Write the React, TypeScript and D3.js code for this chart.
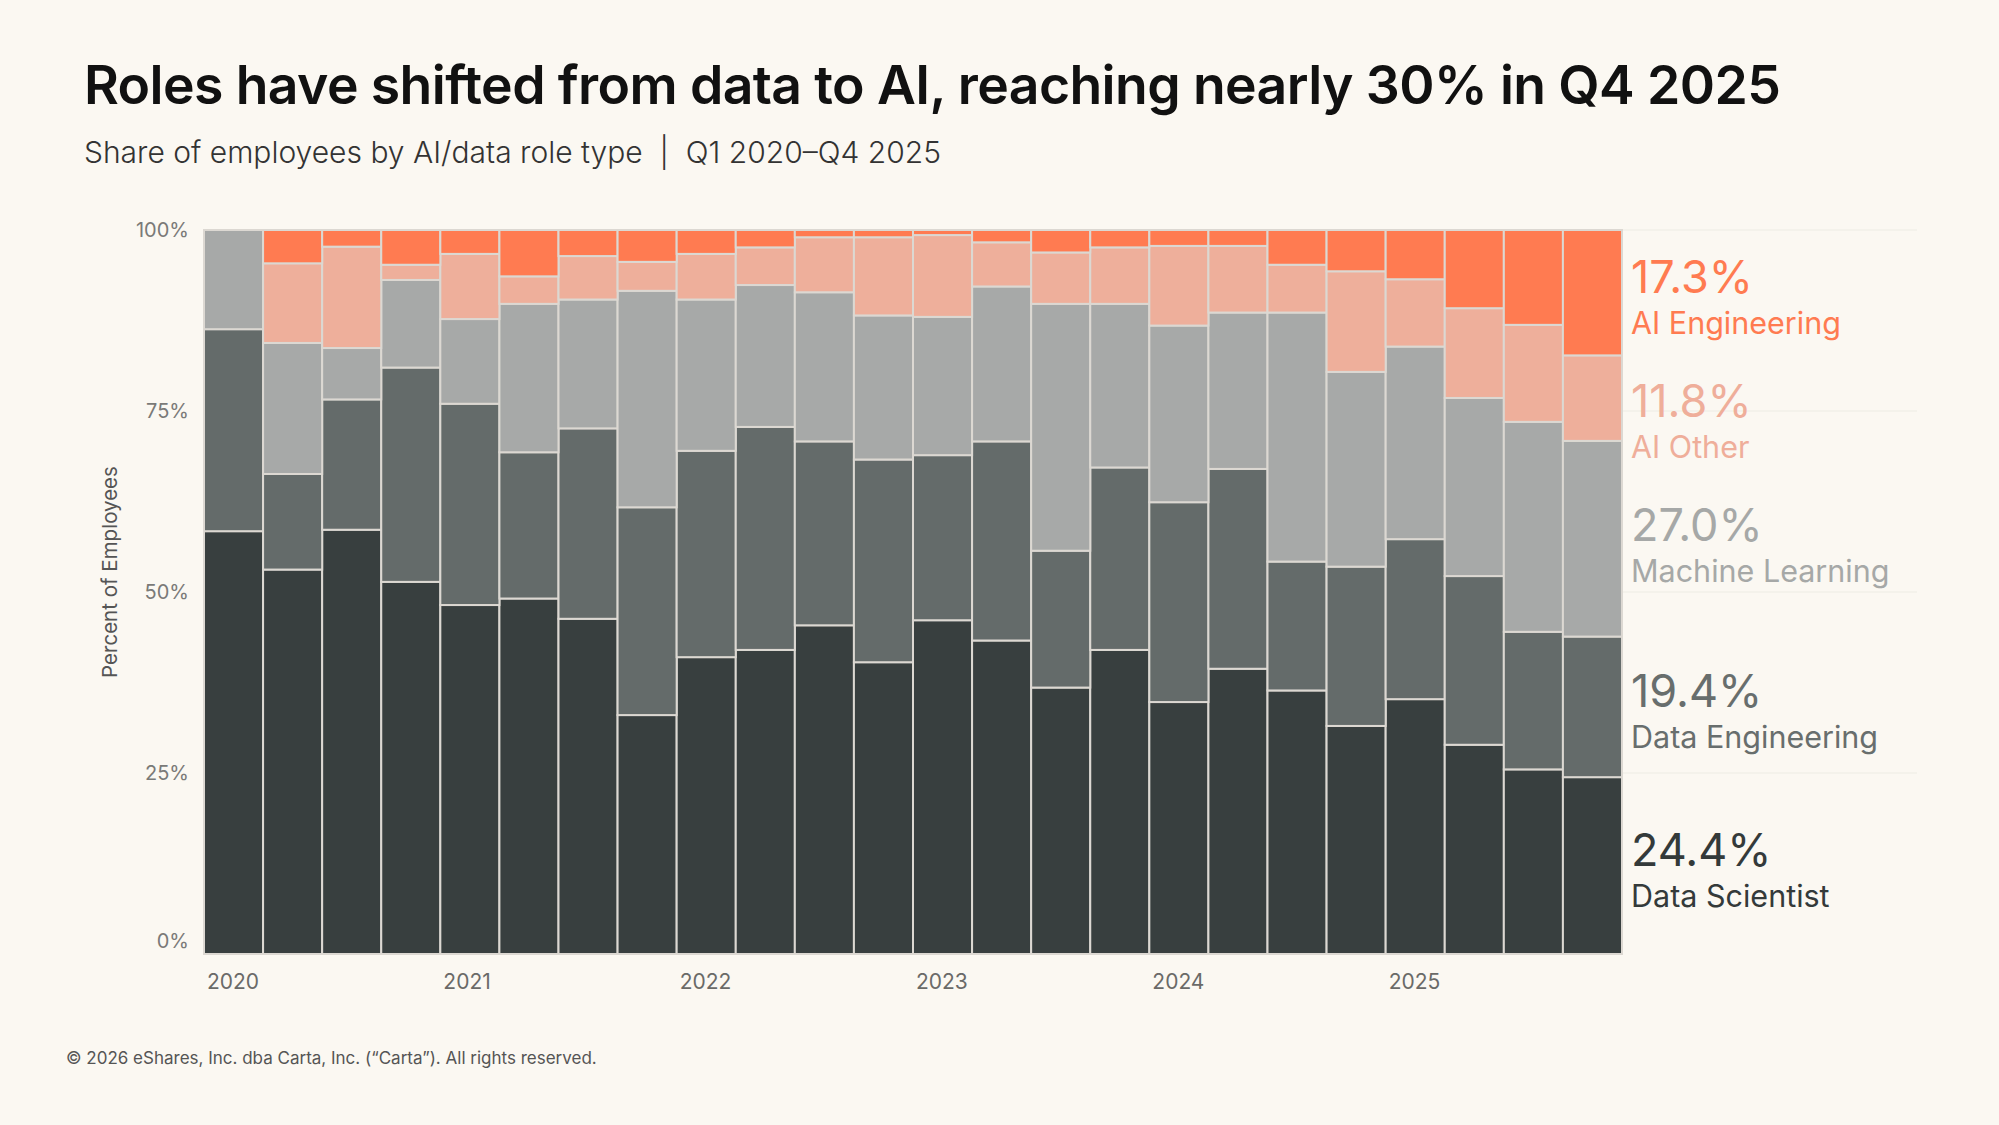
import * as d3 from 'd3';

const QUARTERS = [
  'Q1 2020', 'Q2 2020', 'Q3 2020', 'Q4 2020',
  'Q1 2021', 'Q2 2021', 'Q3 2021', 'Q4 2021',
  'Q1 2022', 'Q2 2022', 'Q3 2022', 'Q4 2022',
  'Q1 2023', 'Q2 2023', 'Q3 2023', 'Q4 2023',
  'Q1 2024', 'Q2 2024', 'Q3 2024', 'Q4 2024',
  'Q1 2025', 'Q2 2025', 'Q3 2025', 'Q4 2025',
];

// bottom to top
const SERIES = ['Data Scientist', 'Data Engineering', 'Machine Learning', 'AI Other', 'AI Engineering'];

const DATA_SCIENTIST = [58.4, 53.1, 58.6, 51.4, 48.2, 49.1, 46.3, 33.0, 41.0, 42.0, 45.4, 40.3, 46.1, 43.3, 36.8, 42.0, 34.8, 39.4, 36.4, 31.5, 35.2, 28.9, 25.5, 24.4];
const DATA_ENGINEERING = [27.9, 13.2, 18.0, 29.6, 27.8, 20.2, 26.3, 28.7, 28.5, 30.8, 25.4, 28.0, 22.8, 27.5, 18.9, 25.2, 27.6, 27.6, 17.8, 22.0, 22.1, 23.3, 19.0, 19.4];
const MACHINE_LEARNING = [13.7, 18.1, 7.1, 12.1, 11.7, 20.5, 17.8, 29.9, 20.9, 19.6, 20.6, 19.9, 19.1, 21.4, 34.1, 22.6, 24.4, 21.6, 34.4, 26.9, 26.6, 24.6, 29.0, 27.0];
const AI_OTHER = [0, 11.0, 14.0, 2.1, 9.0, 3.8, 6.0, 4.0, 6.3, 5.2, 7.6, 10.8, 11.3, 6.1, 7.1, 7.8, 11.0, 9.2, 6.6, 13.9, 9.3, 12.4, 13.4, 11.8];
const AI_ENGINEERING = [0, 4.6, 2.3, 4.8, 3.3, 6.4, 3.6, 4.4, 3.3, 2.4, 1.0, 1.0, 0.7, 1.7, 3.1, 2.4, 2.2, 2.2, 4.8, 5.7, 6.8, 10.8, 13.1, 17.3];

const VALUES: Record<string, number[]> = {
  'Data Scientist': DATA_SCIENTIST,
  'Data Engineering': DATA_ENGINEERING,
  'Machine Learning': MACHINE_LEARNING,
  'AI Other': AI_OTHER,
  'AI Engineering': AI_ENGINEERING,
};

const Y_TICKS = [0, 0.25, 0.5, 0.75, 1];
const YEAR_LABELS = ['2020', '2021', '2022', '2023', '2024', '2025'];

const COLORS: Record<string, string> = {
  'Data Scientist': '#383f3f',
  'Data Engineering': '#646b6a',
  'Machine Learning': '#a7a9a8',
  'AI Other': '#eeaf9b',
  'AI Engineering': '#ff7b51',
};

const TEXT_COLORS: Record<string, string> = {
  'Data Scientist': '#343a3a',
  'Data Engineering': '#686e6d',
  'Machine Learning': '#a6a8a7',
  'AI Other': '#efae9a',
  'AI Engineering': '#ff7b51',
};

const W = 1999;
const H = 1125;
const BG = '#fbf8f2';
const FONT = 'Inter, "Noto Sans", sans-serif';

export default function App() {
  const margin = { top: 230, right: 377, bottom: 171, left: 204 };
  const innerW = W - margin.left - margin.right;
  const innerH = H - margin.top - margin.bottom;

  const rows = QUARTERS.map((q, i) => {
    const row: Record<string, number | string> = { quarter: q };
    SERIES.forEach((s) => { row[s] = VALUES[s][i]; });
    return row;
  });

  const stacked = d3.stack<Record<string, number | string>>()
    .keys(SERIES)
    .value((d, k) => d[k] as number)
    .offset(d3.stackOffsetExpand)(rows);

  const x = d3.scaleBand<string>().domain(QUARTERS).range([0, innerW]).padding(0);
  const y = d3.scaleLinear().domain([0, 1]).range([innerH, 0]);

  // end labels sit at the last bar's segment centres, pushed down when they collide
  const last = QUARTERS.length - 1;
  const ends = stacked.map((layer) => {
    const seg = layer[last];
    return { key: layer.key, value: VALUES[layer.key][last], cy: y((seg[0] + seg[1]) / 2) };
  }).sort((a, b) => a.cy - b.cy);
  const minGap = 124;
  for (let i = 1; i < ends.length; i++) {
    if (ends[i].cy < ends[i - 1].cy + minGap) ends[i].cy = ends[i - 1].cy + minGap;
  }

  return (
    <svg width={W} height={H} style={{ position: 'absolute', left: 0, top: 0, background: BG }} fontFamily={FONT}>
      <rect width={W} height={H} fill={BG} />

      <text x={84} y={104} fontSize={53.5} fontWeight={600} fill="#111" letterSpacing={-0.6}>
        Roles have shifted from data to AI, reaching nearly 30% in Q4 2025
      </text>
      <text x={84} y={163} fontSize={30} fontWeight={300} fill="#333" style={{ whiteSpace: 'pre' }}>
        {'Share of employees by AI/data role type  |  Q1 2020–Q4 2025'}
      </text>

      <g transform={`translate(${margin.left},${margin.top})`}>
        {/* faint grid, only visible beyond the bars */}
        {Y_TICKS.filter((t) => t > 0).map((t) => (
          <line key={t} x1={0} x2={innerW + 295} y1={y(t)} y2={y(t)} stroke="#eeebe4" strokeWidth={1.2} />
        ))}

        {stacked.map((layer) => (
          <g key={layer.key} fill={COLORS[layer.key]}>
            {layer.map((seg, i) => {
              const h = y(seg[0]) - y(seg[1]);
              if (h <= 0) return null;
              return (
                <rect
                  key={i}
                  x={x(QUARTERS[i])}
                  y={y(seg[1])}
                  width={x.bandwidth()}
                  height={h}
                  stroke="#dcd8d2"
                  strokeWidth={2}
                />
              );
            })}
          </g>
        ))}

        {Y_TICKS.map((t) => (
          <text
            key={t}
            x={-15}
            y={y(t) - (t === 0 ? 13 : 0)}
            dy="0.35em"
            textAnchor="end"
            fontSize={20}
            fill="#7a7a78"
          >
            {d3.format('.0%')(t)}
          </text>
        ))}

        <text
          transform={`translate(${110 - margin.left},342) rotate(-90)`}
          textAnchor="middle"
          dy="0.35em"
          fontSize={20.5}
          fill="#555"
        >
          Percent of Employees
        </text>

        {YEAR_LABELS.map((yr) => (
          <text key={yr} x={(x(`Q1 ${yr}`) ?? 0) + 3} y={innerH + 35} fontSize={21} fill="#6a6a68">
            {yr}
          </text>
        ))}

        {ends.map((e) => (
          <g key={e.key} transform={`translate(${innerW + 9},${e.cy})`} fill={TEXT_COLORS[e.key]}>
            <text x={0} y={0} fontSize={45} fontWeight={400}>
              {d3.format('.1f')(e.value)}%
            </text>
            <text x={0} y={41} fontSize={30.5} fontWeight={400}>
              {e.key}
            </text>
          </g>
        ))}
      </g>

      <text x={66} y={1064} fontSize={17} fill="#555">
        © 2026 eShares, Inc. dba Carta, Inc. (“Carta”). All rights reserved.
      </text>
    </svg>
  );
}
